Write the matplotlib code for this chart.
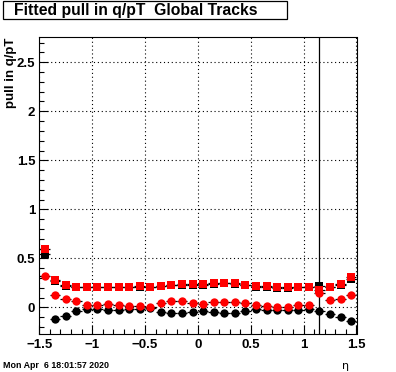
import matplotlib
matplotlib.use("Agg")
import matplotlib.pyplot as plt
from matplotlib.patches import Rectangle
from matplotlib.ticker import MultipleLocator, FuncFormatter
import numpy as np

plt.rcParams['font.family'] = ['Liberation Sans', 'DejaVu Sans']
plt.rcParams['font.weight'] = 'bold'

# bin centres in eta
eta = [-1.45, -1.35, -1.25, -1.15, -1.05, -0.95, -0.85, -0.75, -0.65, -0.55,
       -0.45, -0.35, -0.25, -0.15, -0.05, 0.05, 0.15, 0.25, 0.35, 0.45,
       0.55, 0.65, 0.75, 0.85, 0.95, 1.05, 1.15, 1.25, 1.35, 1.45]

# pull widths (squares) and means (circles)
sigma_black = [0.54, 0.265, 0.215, 0.205, 0.205, 0.205, 0.205, 0.205, 0.205, 0.21,
               0.205, 0.215, 0.228, 0.23, 0.23, 0.23, 0.24, 0.248, 0.24, 0.225,
               0.21, 0.205, 0.2, 0.2, 0.205, 0.205, 0.217, 0.205, 0.232, 0.29]
sigma_red = [0.60, 0.28, 0.23, 0.21, 0.21, 0.21, 0.21, 0.21, 0.21, 0.215,
             0.21, 0.22, 0.23, 0.235, 0.235, 0.235, 0.245, 0.252, 0.245, 0.228,
             0.215, 0.213, 0.21, 0.206, 0.21, 0.21, 0.172, 0.21, 0.238, 0.312]
mean_black = [np.nan, -0.12, -0.092, -0.038, -0.018, -0.018, -0.03, -0.03, -0.02, -0.02,
              -0.006, -0.045, -0.061, -0.058, -0.045, -0.036, -0.045, -0.055, -0.055, -0.042,
              -0.02, -0.027, -0.027, -0.032, -0.027, -0.02, -0.034, -0.068, -0.10, -0.137]
mean_red = [0.32, 0.125, 0.08, 0.06, 0.024, 0.024, 0.034, 0.024, 0.013, 0.013,
            0.006, 0.047, 0.067, 0.067, 0.04, 0.034, 0.055, 0.057, 0.057, 0.047,
            0.02, 0.01, 0.006, 0.006, 0.023, 0.023, 0.15, 0.075, 0.085, 0.125]
bin_half = 0.05
err_sigma = 0.015
err_mean = 0.01
eta_cut = 1.15

W, H = 396, 372
fig = plt.figure(figsize=(W / 100, H / 100), dpi=100)
x0, x1, y0, y1 = 39.3, 356.5, 36.5, 334
ax = fig.add_axes([x0 / W, 1 - y1 / H, (x1 - x0) / W, (y1 - y0) / H])

ax.set_xlim(-1.5, 1.5)
ax.set_ylim(-0.272, 2.763)
fmt = FuncFormatter(lambda v, p: ('%g' % round(v, 3)).replace('-', '\u2212'))
ax.xaxis.set_major_locator(MultipleLocator(0.5))
ax.xaxis.set_minor_locator(MultipleLocator(0.1))
ax.yaxis.set_major_locator(MultipleLocator(0.5))
ax.yaxis.set_minor_locator(MultipleLocator(0.1))
ax.xaxis.set_major_formatter(fmt)
ax.yaxis.set_major_formatter(fmt)
ax.tick_params(which='both', direction='in', top=False, right=False,
               labelsize=9.5, width=0.8)
ax.tick_params(axis='x', which='major', length=6.5, pad=3.5)
ax.tick_params(axis='y', which='major', length=6.5, pad=3)
ax.tick_params(which='minor', length=3.3)
ax.grid(True, which='major', color='black', linestyle=(0, (1, 2.5)), linewidth=0.8)
ax.set_axisbelow(True)
for s in ax.spines.values():
    s.set_linewidth(0.8)

def draw(y, marker, color, ms, yerr):
    ax.errorbar(eta, y, xerr=bin_half, yerr=yerr, fmt=marker, color=color,
                ecolor='black', elinewidth=0.9, capsize=0, markersize=ms,
                markeredgewidth=0)

draw(sigma_black, 's', 'black', 5.4, err_sigma)
draw(sigma_red, 's', 'red', 5.4, err_sigma)
draw(mean_black, 'o', 'black', 6.0, err_mean)
draw(mean_red, 'o', 'red', 6.0, err_mean)

ax.axvline(eta_cut, color='black', linewidth=0.9)

# title box
fig.patches.append(Rectangle((3 / W, 1 - 19 / H), 284 / W, 18 / H,
                             transform=fig.transFigure, facecolor='white',
                             edgecolor='black', linewidth=0.9))
fig.text(14 / W, 1 - 10 / H, 'Fitted pull in q/pT  Global Tracks',
         ha='left', va='center', fontsize=11.3)

fig.text(11 / W, 1 - 38 / H, 'pull in q/pT', rotation=90, ha='center', va='top',
         fontsize=9.5)
fig.text(346 / W, 1 - 366 / H, 'η', ha='center', va='center', fontsize=8,
         fontweight='normal', family=['DejaVu Sans'])
fig.text(3 / W, 1 - 366 / H, 'Mon Apr  6 18:01:57 2020', ha='left', va='center',
         fontsize=6.4)

fig.savefig('out.png', dpi=100)
